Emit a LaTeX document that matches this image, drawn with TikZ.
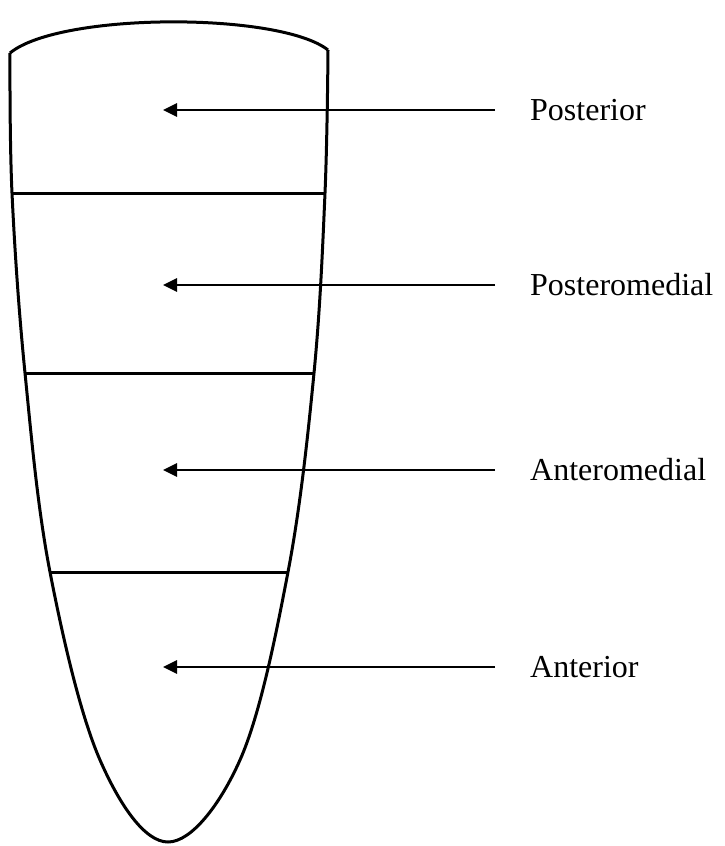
\documentclass[tikz,border=0pt]{standalone}
\usepackage{fontspec}
\setmainfont{Liberation Serif}
\usetikzlibrary{arrows.meta}
\begin{document}
\begin{tikzpicture}[x=1pt,y=-1pt,
  outline/.style={line width=3pt},
  pointer/.style={line width=2.8pt,-{Triangle[length=14pt,width=13pt]},shorten <=35pt},
  lbl/.style={anchor=west,inner sep=0pt,font=\fontsize{32}{38}\selectfont}]
\useasboundingbox (0,0) rectangle (724,846);
\draw[outline] (10,53) .. controls (60,12) and (280,12) .. (328,50);
\draw[outline] plot[smooth,tension=.6] coordinates {(10,53) (12,193) (25,373) (50,572) (100,760) (168,842) (240,760) (288,572) (314,373) (325,193) (328,50)};
\draw[outline] (12,193)--(325,193) (25,373)--(314,373) (50,572)--(288,572);
\node[lbl] (post) at (530,110) {Posterior};
\node[lbl] (pmed) at (530,285) {Posteromedial};
\node[lbl] (amed) at (530,470) {Anteromedial};
\node[lbl] (ant) at (530,667) {Anterior};
\coordinate (in1) at (163,110);
\coordinate (in2) at (163,285);
\coordinate (in3) at (163,470);
\coordinate (in4) at (163,667);
\draw[pointer] (post.west)--(in1);
\draw[pointer] (pmed.west)--(in2);
\draw[pointer] (amed.west)--(in3);
\draw[pointer] (ant.west)--(in4);
\end{tikzpicture}
\end{document}
